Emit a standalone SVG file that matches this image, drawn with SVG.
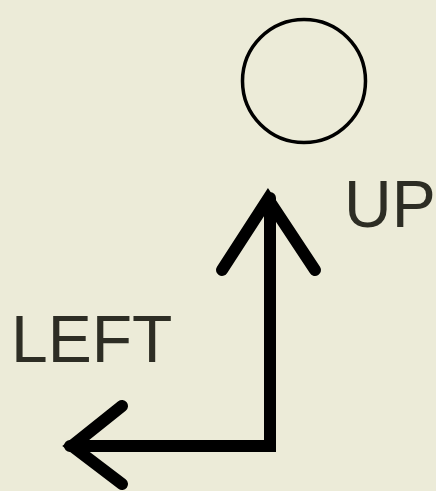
<svg xmlns="http://www.w3.org/2000/svg" width="436" height="491" viewBox="0 0 436 491">
<style>
.lbl{font-family:"Liberation Sans",Arial,sans-serif;font-size:66px;fill:#2d2d24}
.arrow{fill:none;stroke:#000;stroke-width:12;stroke-linecap:round;stroke-linejoin:miter}
</style>
<rect width="436" height="491" fill="#ecebd8"/>
<g id="node-circle">
<circle cx="304" cy="81" r="61.5" fill="none" stroke="#000" stroke-width="3.5"/>
</g>
<g id="connectors">
<polyline class="arrow" points="70,446 270,446 270,198"/>
<polyline class="arrow" points="222,270 268,199 315,270"/>
<polyline class="arrow" points="122,406 72,446 122,484"/>
</g>
<g id="label-up"><text class="lbl" x="344" y="227">UP</text></g>
<g id="label-left"><text class="lbl" x="11" y="362">LEFT</text></g>
</svg>
